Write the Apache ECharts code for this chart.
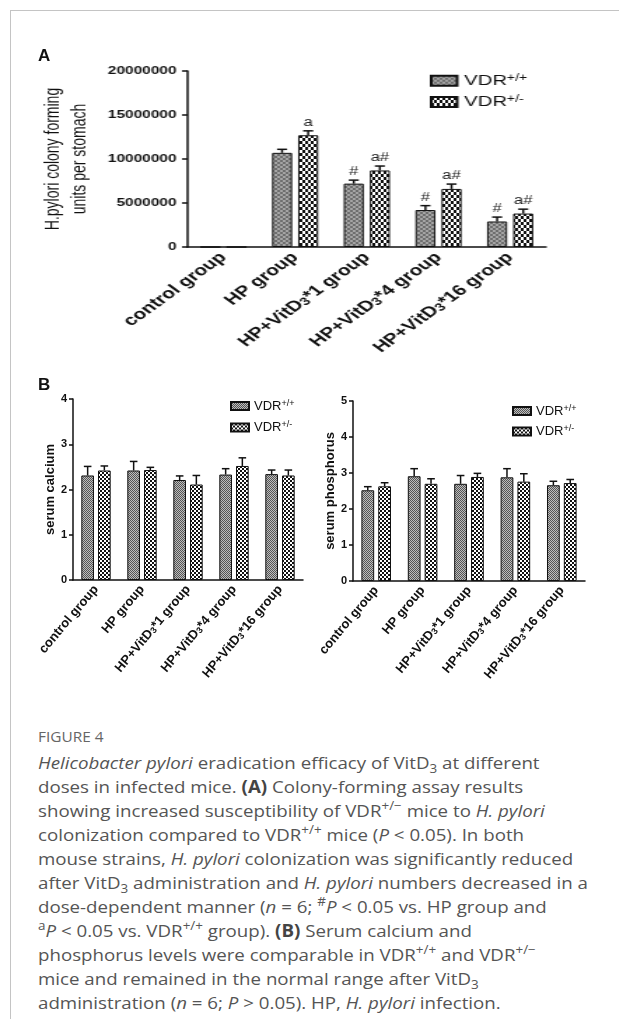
<!DOCTYPE html>
<html><head><meta charset="utf-8">
<script src="https://cdn.jsdelivr.net/npm/echarts@6/dist/echarts.min.js"></script>
<style>
html,body{margin:0;padding:0;background:#fff;width:619px;height:1019px;overflow:hidden;position:relative;}
#frame{position:absolute;left:10px;top:10px;width:700px;height:1100px;border-top:1px solid #c4c4c4;border-left:1px solid #c4c4c4;}
#chartA{position:absolute;left:0;top:0;width:442px;height:370px;transform:scaleX(1.4);transform-origin:0 0;}
#chartB{position:absolute;left:0;top:370px;width:619px;height:345px;}
.panel{position:absolute;font:bold 17px 'Liberation Sans',Arial,sans-serif;color:#111;line-height:17px;}
#capwrap{position:absolute;left:38px;top:727px;transform:scaleX(1.1);transform-origin:0 0;}
#fig{font:14px 'Open Sans',sans-serif;color:#666;line-height:20px;height:24px;}
#cap{font:17px 'Open Sans',sans-serif;color:#555;line-height:24px;white-space:nowrap;}
#cap sup,#cap sub{font-size:0.72em;line-height:0;}
#cap b{font-weight:700;color:#444;}
</style></head>
<body>
<div id="frame"></div>
<div id="chartA"></div>
<div id="chartB"></div>
<div class="panel" style="left:38px;top:47px;">A</div>
<div class="panel" style="left:38px;top:376px;">B</div>
<div id="capwrap">
<div id="fig">FIGURE 4</div>
<div id="cap"><i>Helicobacter pylori</i> eradication efficacy of VitD<sub>3</sub> at different<br>doses in infected mice. <b>(A)</b> Colony-forming assay results<br>showing increased susceptibility of VDR<sup>+/−</sup> mice to <i>H. pylori</i><br>colonization compared to VDR<sup>+/+</sup> mice (<i>P</i> &lt; 0.05). In both<br>mouse strains, <i>H. pylori</i> colonization was significantly reduced<br>after VitD<sub>3</sub> administration and <i>H. pylori</i> numbers decreased in a<br>dose-dependent manner (<i>n</i> = 6; <sup>#</sup><i>P</i> &lt; 0.05 vs. HP group and<br><sup>a</sup><i>P</i> &lt; 0.05 vs. VDR<sup>+/+</sup> group). <b>(B)</b> Serum calcium and<br>phosphorus levels were comparable in VDR<sup>+/+</sup> and VDR<sup>+/−</sup><br>mice and remained in the normal range after VitD<sub>3</sub><br>administration (<i>n</i> = 6; <i>P</i> &gt; 0.05). HP, <i>H. pylori</i> infection.</div>
</div>
<script>
// ---- data ----
const categories = ['control group', 'HP group', 'HP+VitD3*1 group', 'HP+VitD3*4 group', 'HP+VitD3*16 group'];
const seriesNames = ['VDR+/+', 'VDR+/-'];

const cfuWT = [0, 10700000, 7200000, 4200000, 2900000];
const cfuWTErr = [0, 400000, 400000, 500000, 500000];
const cfuHet = [0, 12700000, 8700000, 6600000, 3800000];
const cfuHetErr = [0, 500000, 500000, 550000, 500000];
const cfuWTMarks = ['', '', '#', '#', '#'];
const cfuHetMarks = ['', 'a', 'a#', 'a#', 'a#'];
const cfuAxis = [0, 20000000, 5000000];

const calciumWT = [2.31, 2.42, 2.21, 2.33, 2.34];
const calciumWTErr = [0.20, 0.20, 0.09, 0.13, 0.09];
const calciumHet = [2.42, 2.43, 2.11, 2.52, 2.31];
const calciumHetErr = [0.10, 0.06, 0.20, 0.18, 0.12];
const calciumAxis = [0, 4, 1];

const phosWT = [2.52, 2.91, 2.70, 2.88, 2.66];
const phosWTErr = [0.10, 0.21, 0.23, 0.24, 0.11];
const phosHet = [2.63, 2.70, 2.89, 2.76, 2.72];
const phosHetErr = [0.10, 0.14, 0.10, 0.22, 0.10];
const phosAxis = [0, 5, 1];

// ---- styling helpers ----
const FF = "'Liberation Sans', Arial, sans-serif";
const INK = '#111';

function checker(cw, ch, dark, light) {
  const c = document.createElement('canvas');
  c.width = cw * 2; c.height = ch * 2;
  const g = c.getContext('2d');
  g.fillStyle = light; g.fillRect(0, 0, c.width, c.height);
  g.fillStyle = dark; g.fillRect(0, 0, cw, ch); g.fillRect(cw, ch, cw, ch);
  return { image: c, repeat: 'repeat' };
}

function fmtCat(s) { return s.replace('VitD3', 'VitD{sub|3}'); }
function fmtLegend(n) { return n.replace(/^VDR(.*)$/, '{m|VDR}{sup|$1}'); }

function errorSeries(means, errs, marks, side, barFrac, gapFrac, capFrac, xi, yi, fs) {
  return {
    type: 'custom', xAxisIndex: xi, yAxisIndex: yi, z: 5, silent: true,
    data: means.map((m, i) => [i, m, errs[i]]),
    encode: { x: 0, y: 1 },
    renderItem(params, api) {
      const i = api.value(0), m = api.value(1), e = api.value(2);
      const band = api.size([1, 0])[0];
      const bw = band * barFrac;
      const base = api.coord([i, m]);
      const x = base[0] + side * (bw + bw * gapFrac) / 2;
      const yTop = api.coord([i, m + e])[1];
      const children = [];
      if (e > 0) {
        children.push({ type: 'line', shape: { x1: x, y1: base[1], x2: x, y2: yTop }, style: { stroke: INK, lineWidth: 1.5 } });
        children.push({ type: 'line', shape: { x1: x - bw * capFrac / 2, y1: yTop, x2: x + bw * capFrac / 2, y2: yTop }, style: { stroke: INK, lineWidth: 1.5 } });
      }
      const mk = marks ? marks[params.dataIndex] : '';
      if (mk) children.push({ type: 'text', style: { text: mk, x: x, y: yTop - 2, align: 'center', verticalAlign: 'bottom', fontSize: fs, fontFamily: FF, fill: '#222' } });
      return { type: 'group', children };
    }
  };
}

function xAxisCfg(gi, fs, margin, rot) {
  return {
    type: 'category', gridIndex: gi, data: categories,
    axisLine: { lineStyle: { color: INK, width: 1.5 } },
    axisTick: { alignWithLabel: true, length: 4, lineStyle: { color: INK, width: 1.5 } },
    axisLabel: {
      interval: 0, rotate: rot, margin: margin, fontSize: fs, fontWeight: 'bold', color: INK, fontFamily: FF,
      formatter: fmtCat,
      rich: { sub: { fontSize: Math.round(fs * 0.7), fontWeight: 'bold', fontFamily: FF, color: INK, verticalAlign: 'bottom' } }
    }
  };
}

function yAxisCfg(gi, ax, name, nameGap, nameStyle, labelFs, labelMargin) {
  return {
    type: 'value', gridIndex: gi, min: ax[0], max: ax[1], interval: ax[2],
    name: name, nameLocation: 'middle', nameRotate: 90, nameGap: nameGap, nameTextStyle: nameStyle,
    axisLine: { show: true, lineStyle: { color: INK, width: 1.5 } },
    axisTick: { show: true, length: 4, lineStyle: { color: INK, width: 1.5 } },
    splitLine: { show: false },
    axisLabel: { fontSize: labelFs, fontWeight: 'bold', color: INK, fontFamily: FF, margin: labelMargin, formatter: v => String(v) }
  };
}

function legendCfg(left, top, w, h, fs, gap) {
  return {
    left: left, top: top, orient: 'vertical', itemWidth: w, itemHeight: h, itemGap: gap, icon: 'rect',
    data: seriesNames, formatter: fmtLegend, selectedMode: false,
    textStyle: { color: INK, fontFamily: FF, fontSize: fs,
      rich: { m: { fontSize: fs, fontFamily: FF, color: INK, lineHeight: fs + 1 }, sup: { fontSize: Math.round(fs * 0.68), fontFamily: FF, color: INK, verticalAlign: 'top' } } }
  };
}

function barSeries(name, data, color, xi, yi, bw, gap) {
  return { type: 'bar', name: name, data: data, xAxisIndex: xi, yAxisIndex: yi, barWidth: bw, barGap: gap,
    itemStyle: { color: color, borderColor: INK, borderWidth: 1 }, emphasis: { disabled: true } };
}

// ---- Panel A ----
const greyA = checker(2, 2, '#6e6e6e', '#a4a4a4');
const checkA = checker(2, 3, '#111', '#fff');
const chartA = echarts.init(document.getElementById('chartA'), null, { renderer: 'canvas' });
chartA.setOption({
  animation: false,
  grid: [{ left: 134, right: 52, top: 71, height: 176, outerBoundsMode: 'none' }],
  legend: [legendCfg(302, 68, 18.5, 10, 14.5, 6)],
  xAxis: [xAxisCfg(0, 15, 8, 45)],
  yAxis: [yAxisCfg(0, cfuAxis, 'H.pylori colony forming\nunits per stomach', 56,
    { fontSize: 14, lineHeight: 18.5, color: INK, fontFamily: FF }, 11, 8)],
  series: [
    barSeries(seriesNames[0], cfuWT, greyA, 0, 0, '28%', '30%'),
    barSeries(seriesNames[1], cfuHet, checkA, 0, 0, '28%', '30%'),
    errorSeries(cfuWT, cfuWTErr, cfuWTMarks, -1, 0.28, 0.30, 0.5, 0, 0, 12),
    errorSeries(cfuHet, cfuHetErr, cfuHetMarks, 1, 0.28, 0.30, 0.5, 0, 0, 12)
  ]
});

// ---- Panel B ----
const greyB = checker(1, 1, '#555555', '#bdbdbd');
const checkB = checker(2, 2, '#111', '#fff');
const chartB = echarts.init(document.getElementById('chartB'), null, { renderer: 'canvas' });
const nameStyleB = { fontSize: 13, fontWeight: 'bold', color: INK, fontFamily: FF };
chartB.setOption({
  animation: false,
  grid: [
    { left: 73, width: 230, top: 29, height: 181, outerBoundsMode: 'none' },
    { left: 353, width: 232, top: 31, height: 180, outerBoundsMode: 'none' }
  ],
  legend: [legendCfg(225, 24, 18, 8, 13, 8), legendCfg(507, 29, 18, 8, 13, 7)],
  xAxis: [xAxisCfg(0, 13, 7, 50), xAxisCfg(1, 13, 7, 50)],
  yAxis: [
    yAxisCfg(0, calciumAxis, 'serum calcium', 15, nameStyleB, 11, 6),
    yAxisCfg(1, phosAxis, 'serum phosphorus', 15, nameStyleB, 11, 6)
  ],
  series: [
    barSeries(seriesNames[0], calciumWT, greyB, 0, 0, '27.5%', '32%'),
    barSeries(seriesNames[1], calciumHet, checkB, 0, 0, '27.5%', '32%'),
    barSeries(seriesNames[0], phosWT, greyB, 1, 1, '27.5%', '32%'),
    barSeries(seriesNames[1], phosHet, checkB, 1, 1, '27.5%', '32%'),
    errorSeries(calciumWT, calciumWTErr, null, -1, 0.275, 0.32, 0.6, 0, 0, 11),
    errorSeries(calciumHet, calciumHetErr, null, 1, 0.275, 0.32, 0.6, 0, 0, 11),
    errorSeries(phosWT, phosWTErr, null, -1, 0.275, 0.32, 0.6, 1, 1, 11),
    errorSeries(phosHet, phosHetErr, null, 1, 0.275, 0.32, 0.6, 1, 1, 11)
  ]
});
</script>
</body></html>
